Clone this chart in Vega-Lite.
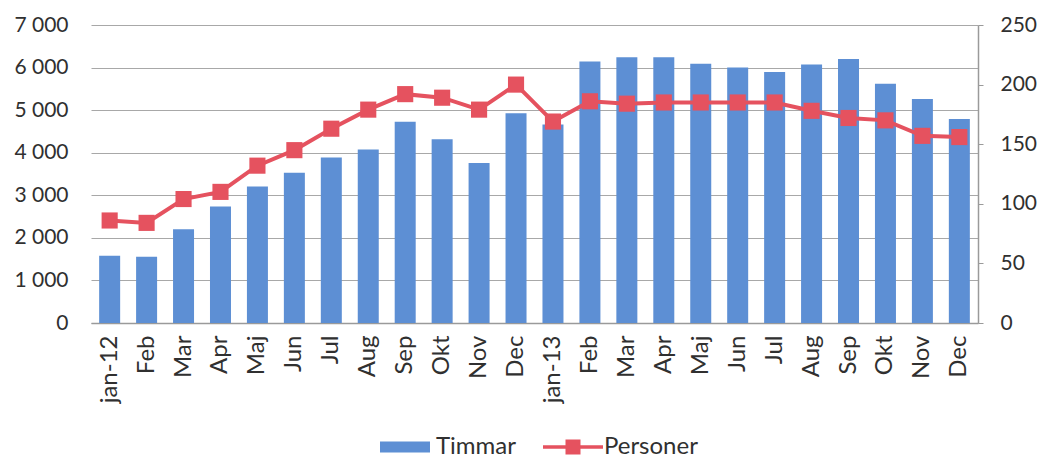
{
  "$schema": "https://vega.github.io/schema/vega-lite/v6.json",
  "width": 887,
  "height": 298,
  "autosize": "none",
  "padding": {"left": 91, "top": 25, "right": 79, "bottom": 136},
  "background": "white",
  "config": {
    "font": "Lato",
    "view": {"stroke": null},
    "axis": {"labelFont": "Lato", "labelColor": "#303030", "labelFontSize": 21}
  },
  "data": {
    "values": [
      {"i": 0, "label": "jan-12", "Timmar": 1580, "Personer": 86},
      {"i": 1, "label": "Feb", "Timmar": 1558, "Personer": 84},
      {"i": 2, "label": "Mar", "Timmar": 2200, "Personer": 104},
      {"i": 3, "label": "Apr", "Timmar": 2735, "Personer": 110},
      {"i": 4, "label": "Maj", "Timmar": 3205, "Personer": 132},
      {"i": 5, "label": "Jun", "Timmar": 3530, "Personer": 145},
      {"i": 6, "label": "Jul", "Timmar": 3890, "Personer": 163},
      {"i": 7, "label": "Aug", "Timmar": 4075, "Personer": 179},
      {"i": 8, "label": "Sep", "Timmar": 4730, "Personer": 192},
      {"i": 9, "label": "Okt", "Timmar": 4315, "Personer": 189},
      {"i": 10, "label": "Nov", "Timmar": 3760, "Personer": 179},
      {"i": 11, "label": "Dec", "Timmar": 4925, "Personer": 200},
      {"i": 12, "label": "jan-13", "Timmar": 4660, "Personer": 169},
      {"i": 13, "label": "Feb", "Timmar": 6140, "Personer": 186},
      {"i": 14, "label": "Mar", "Timmar": 6240, "Personer": 184},
      {"i": 15, "label": "Apr", "Timmar": 6245, "Personer": 185},
      {"i": 16, "label": "Maj", "Timmar": 6090, "Personer": 185},
      {"i": 17, "label": "Jun", "Timmar": 6000, "Personer": 185},
      {"i": 18, "label": "Jul", "Timmar": 5895, "Personer": 185},
      {"i": 19, "label": "Aug", "Timmar": 6075, "Personer": 178},
      {"i": 20, "label": "Sep", "Timmar": 6200, "Personer": 172},
      {"i": 21, "label": "Okt", "Timmar": 5620, "Personer": 170},
      {"i": 22, "label": "Nov", "Timmar": 5260, "Personer": 157},
      {"i": 23, "label": "Dec", "Timmar": 4790, "Personer": 156}
    ]
  },
  "encoding": {
    "x": {
      "field": "i",
      "type": "ordinal",
      "scale": {"paddingInner": 0.43, "paddingOuter": 0.22},
      "axis": {
        "title": null,
        "labelAngle": -90,
        "labelAlign": "right",
        "labelBaseline": "middle",
        "labelPadding": 12,
        "labelFontSize": 24,
        "ticks": false,
        "domainColor": "#9a9a9a",
        "domainWidth": 1.5,
        "labelExpr": "['jan-12','Feb','Mar','Apr','Maj','Jun','Jul','Aug','Sep','Okt','Nov','Dec','jan-13','Feb','Mar','Apr','Maj','Jun','Jul','Aug','Sep','Okt','Nov','Dec'][datum.value]"
      }
    }
  },
  "layer": [
    {
      "mark": {"type": "bar", "size": 21},
      "encoding": {
        "y": {
          "field": "Timmar",
          "type": "quantitative",
          "scale": {"domain": [0, 7000], "nice": false},
          "axis": {
            "title": null,
            "values": [0, 1000, 2000, 3000, 4000, 5000, 6000, 7000],
            "labelExpr": "replace(format(datum.value, ','), ',', ' ')",
            "domain": false,
            "ticks": false,
            "labelPadding": 23,
            "grid": true,
            "gridColor": "#a8a8a8",
            "gridWidth": 1.2
          }
        },
        "color": {
          "datum": "Timmar",
          "type": "nominal",
          "scale": {"domain": ["Timmar", "Personer"], "range": ["#5d8fd4", "#e5525f"]},
          "legend": {
            "title": null,
            "orient": "none",
            "legendX": 289,
            "legendY": 397,
            "direction": "horizontal",
            "columns": 2,
            "columnPadding": 26,
            "symbolSize": 2500,
            "labelFontSize": 24,
            "labelFont": "Lato",
            "labelColor": "#303030",
            "labelOffset": 6,
            "encode": {
              "symbols": {
                "update": {
                  "shape": {"signal": "datum.value === 'Timmar' ? 'M-1,-0.22H1V0.22H-1Z' : 'M-1.2,-0.07H1.2V0.07H-1.2Z M-0.3,-0.3H0.3V0.3H-0.3Z'"},
                  "fill": {"signal": "datum.value === 'Timmar' ? '#5d8fd4' : '#e5525f'"},
                  "strokeWidth": {"value": 0},
                  "opacity": {"value": 1},
                  "fillOpacity": {"value": 1}
                }
              }
            }
          }
        }
      }
    },
    {
      "mark": {
        "type": "line",
        "strokeWidth": 4,
        "point": {"filled": true, "shape": "square", "size": 260, "opacity": 1}
      },
      "encoding": {
        "y": {
          "field": "Personer",
          "type": "quantitative",
          "scale": {"domain": [0, 250], "nice": false},
          "axis": {
            "title": null,
            "orient": "right",
            "values": [0, 50, 100, 150, 200, 250],
            "grid": false,
            "domainColor": "#9a9a9a",
            "domainWidth": 1.5,
            "tickColor": "#9a9a9a",
            "tickSize": 5,
            "labelPadding": 17
          }
        },
        "color": {"datum": "Personer", "type": "nominal"}
      }
    }
  ],
  "resolve": {"scale": {"y": "independent"}}
}
